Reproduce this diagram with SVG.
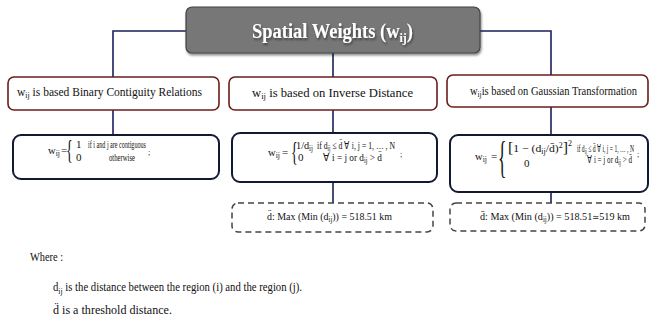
<svg xmlns="http://www.w3.org/2000/svg" width="650" height="327" viewBox="0 0 650 327">
<defs>
<filter id="sh" x="-10%" y="-20%" width="120%" height="150%"><feDropShadow dx="1" dy="2" stdDeviation="1.2" flood-color="#000" flood-opacity="0.45"/></filter>
</defs>
<style>
text{font-family:"Liberation Serif","Times New Roman",serif;fill:#111}
.hd{fill:#fff;stroke:#6b1c1c;stroke-width:1.6}
.fm{fill:#fff;stroke:#121a33;stroke-width:2}
.ds{fill:#fff;stroke:#444;stroke-width:1.5;stroke-dasharray:6 4}
.con{fill:none;stroke:#1b1f5e;stroke-width:1.6}
.h{font-size:13px}
.f{font-size:11px}
.b{font-size:12.5px}
</style>
<rect width="650" height="327" fill="#fff"/>
<g id="connectors">
<path class="con" d="M186 31H113V77M480 31H551V75M333 53V77M113 110V135M333 110V133M551 107V135M333 182V203M551 192V203"/>
</g>
<g id="title">
<rect x="186" y="7" width="294" height="46" rx="6" fill="#777" stroke="#444" stroke-width="1.2" filter="url(#sh)"/>
<text x="252" y="38" font-size="20" font-weight="bold" style="fill:#fff" textLength="161" lengthAdjust="spacingAndGlyphs" filter="url(#sh)">Spatial Weights (w<tspan font-size="13" dy="4">ij</tspan><tspan dy="-4">)</tspan></text>
</g>
<g id="hdr-binary">
<rect class="hd" x="8" y="77" width="211" height="33" rx="6"/>
<text class="h" x="17" y="96" textLength="185" lengthAdjust="spacingAndGlyphs">w<tspan font-size="9" dy="2">ij</tspan><tspan dy="-2"> is based Binary Contiguity Relations</tspan></text>
</g>
<g id="hdr-inverse">
<rect class="hd" x="229" y="77" width="208" height="33" rx="6"/>
<text class="h" x="252" y="97" textLength="161" lengthAdjust="spacingAndGlyphs">w<tspan font-size="9" dy="2">ij</tspan><tspan dy="-2"> is based on Inverse Distance</tspan></text>
</g>
<g id="hdr-gauss">
<rect class="hd" x="447" y="75" width="201" height="32" rx="6"/>
<text class="h" x="470" y="95" textLength="167" lengthAdjust="spacingAndGlyphs">w<tspan font-size="9" dy="2">ij</tspan><tspan dy="-2">is based on Gaussian Transformation</tspan></text>
</g>
<g id="f-binary">
<rect class="fm" x="13" y="135" width="206" height="44" rx="8"/>
<text class="f" x="48" y="154" textLength="12" lengthAdjust="spacingAndGlyphs">w<tspan font-size="8" dy="2">ij</tspan></text>
<text class="f" x="61" y="154">=</text>
<text transform="translate(66,159) scale(0.5,1)" font-size="28">{</text>
<text class="f" x="76" y="148">1</text>
<text class="f" x="88" y="148" textLength="58" lengthAdjust="spacingAndGlyphs">if i and  j are contiguous</text>
<text class="f" x="76" y="161">0</text>
<text class="f" x="109" y="161" textLength="26" lengthAdjust="spacingAndGlyphs">otherwise</text>
<text x="148" y="155" font-size="8">;</text>
</g>
<g id="f-inverse">
<rect class="fm" x="232" y="133" width="205" height="49" rx="8"/>
<text class="f" x="268" y="156" textLength="12" lengthAdjust="spacingAndGlyphs">w<tspan font-size="8" dy="2">ij</tspan></text>
<text class="f" x="282" y="156">=</text>
<text transform="translate(291,161) scale(0.5,1)" font-size="28">{</text>
<text class="f" x="296" y="149" textLength="17" lengthAdjust="spacingAndGlyphs">1/d<tspan font-size="7.5" dy="2">ij</tspan></text>
<text class="f" x="317" y="149" textLength="78" lengthAdjust="spacingAndGlyphs">if d<tspan font-size="7.5" dy="2">ij</tspan><tspan dy="-2"> ≤ d̈ ∀ i, j = 1, … , N</tspan></text>
<text class="f" x="298" y="161">0</text>
<text class="f" x="323" y="161" textLength="59" lengthAdjust="spacingAndGlyphs">∀ i = j or d<tspan font-size="7.5" dy="2">ij</tspan><tspan dy="-2"> &gt; d̈</tspan></text>
<text x="400" y="157" font-size="8">;</text>
</g>
<g id="f-gauss">
<rect class="fm" x="450" y="135" width="198" height="57" rx="8"/>
<text class="f" x="475" y="160" textLength="12" lengthAdjust="spacingAndGlyphs">w<tspan font-size="8" dy="2">ij</tspan></text>
<text class="f" x="491" y="160">=</text>
<text transform="translate(498,172) scale(0.4,1)" font-size="44">{</text>
<text class="f" x="508" y="152" textLength="64" lengthAdjust="spacingAndGlyphs"><tspan font-size="15">[</tspan>1 − (d<tspan font-size="7.5" dy="2">ij</tspan><tspan dy="-2">/d̄)</tspan><tspan font-size="7.5" dy="-4">2</tspan><tspan font-size="15" dy="4">]</tspan><tspan font-size="7.5" dy="-6">2</tspan></text>
<text class="f" x="577" y="152" textLength="57" lengthAdjust="spacingAndGlyphs">if d<tspan font-size="7.5" dy="2">ij</tspan><tspan dy="-2"> ≤ d̄ ∀ i, j = 1, … , N</tspan></text>
<text class="f" x="524" y="167">0</text>
<text class="f" x="587" y="163" textLength="45" lengthAdjust="spacingAndGlyphs">∀ i = j or d<tspan font-size="7.5" dy="2">ij</tspan><tspan dy="-2"> &gt; d̄</tspan></text>
<text x="637" y="157" font-size="8">;</text>
</g>
<g id="thr-inverse">
<rect class="ds" x="232" y="203" width="201" height="29" rx="6"/>
<text class="f" x="267" y="220" textLength="125" lengthAdjust="spacingAndGlyphs">d̈: Max (Min (d<tspan font-size="7.5" dy="2">ij</tspan><tspan dy="-2">)) = 518.51 km</tspan></text>
</g>
<g id="thr-gauss">
<rect class="ds" x="450" y="203" width="195" height="28" rx="6"/>
<text class="f" x="480" y="220" textLength="150" lengthAdjust="spacingAndGlyphs">d̄: Max (Min (d<tspan font-size="7.5" dy="2">ij</tspan><tspan dy="-2">)) = 518.51</tspan><tspan font-family="DejaVu Serif" font-size="9">≃</tspan>519 km</text>
</g>
<g id="notes">
<text class="b" x="30" y="261" textLength="33" lengthAdjust="spacingAndGlyphs">Where :</text>
<text class="b" x="53" y="291" textLength="249" lengthAdjust="spacingAndGlyphs">d<tspan font-size="9" dy="3">ij</tspan><tspan dy="-3"> is the distance between the region (i) and the region (j).</tspan></text>
<text class="b" x="53" y="314" textLength="119" lengthAdjust="spacingAndGlyphs">d̈  is a threshold distance.</text>
</g>
</svg>
